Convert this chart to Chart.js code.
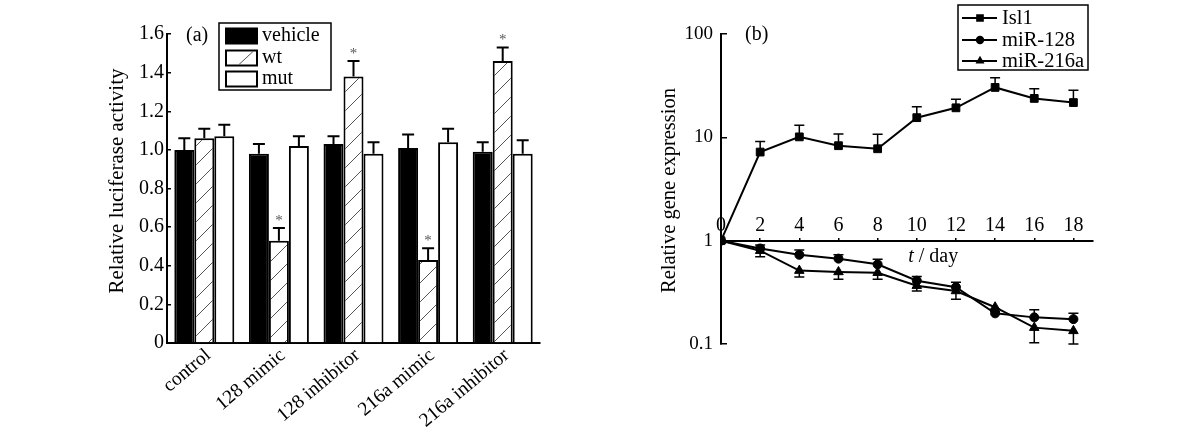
<!DOCTYPE html>
<html>
<head>
<meta charset="utf-8">
<script src="https://cdn.jsdelivr.net/npm/chart.js@4.4.1/dist/chart.umd.min.js"></script>
<style>
  html, body { margin: 0; padding: 0; background: #fff; }
  #wrap { position: relative; width: 1200px; height: 442px; overflow: hidden; }
  canvas { position: absolute; top: 0; }
  #ca { left: 0; }
  #cb { left: 600px; }
</style>
</head>
<body>
<div id="wrap">
  <canvas id="ca" width="600" height="442"></canvas>
  <canvas id="cb" width="600" height="442"></canvas>
</div>
<script>
// ---------- Panel (a) data ----------
const categories = ['control', '128 mimic', '128 inhibitor', '216a mimic', '216a inhibitor'];
const vehicle    = [1.00, 0.98, 1.03, 1.01, 0.99];
const vehicleErr = [0.06, 0.05, 0.04, 0.07, 0.05];
const wt         = [1.06, 0.53, 1.38, 0.43, 1.46];
const wtErr      = [0.05, 0.065, 0.08, 0.06, 0.07];
const mut        = [1.07, 1.02, 0.98, 1.04, 0.98];
const mutErr     = [0.06, 0.05, 0.06, 0.07, 0.07];
const wtSig      = [false, true, true, true, true];
const yTicksA    = [0, 0.2, 0.4, 0.6, 0.8, 1.0, 1.2, 1.4, 1.6];

// ---------- Panel (b) data ----------
const days      = [0, 2, 4, 6, 8, 10, 12, 14, 16, 18];
const isl1      = [1, 7.2, 10.1, 8.3, 7.75, 15.5, 19.3, 30.4, 23.8, 21.7];
const isl1Err   = [0, 1.9, 3.0, 2.5, 2.95, 4.3, 4.1, 7.3, 5.7, 6.9];      // upward
const mir128    = [1, 0.84, 0.73, 0.67, 0.59, 0.41, 0.355, 0.198, 0.181, 0.174];
const mir128Err = [0, 0.07, 0.08, 0.06, 0.07, 0.04, 0.04, 0.01, 0.033, 0.024]; // upward
const mir216    = [1, 0.80, 0.513, 0.498, 0.49, 0.367, 0.326, 0.227, 0.144, 0.134];
const mir216Err = [0, 0.10, 0.067, 0.075, 0.067, 0.041, 0.055, 0.01, 0.041, 0.034]; // downward
const yTicksB   = [0.1, 1, 10, 100];
const xTicksB   = [0, 2, 4, 6, 8, 10, 12, 14, 16, 18];

const SERIF = "'Liberation Serif', 'Times New Roman', serif";

// hatch pattern for "wt"
function makeHatch() {
  const s = 19;
  const c = document.createElement('canvas');
  c.width = s; c.height = s;
  const g = c.getContext('2d');
  g.fillStyle = '#fff'; g.fillRect(0, 0, s, s);
  g.strokeStyle = '#555'; g.lineWidth = 1;
  g.beginPath();
  g.moveTo(0, s); g.lineTo(s, 0);
  g.moveTo(-2, 2); g.lineTo(2, -2);
  g.moveTo(s - 2, s + 2); g.lineTo(s + 2, s - 2);
  g.stroke();
  return document.getElementById('ca').getContext('2d').createPattern(c, 'repeat');
}
const hatch = makeHatch();

function drawVerticalTitle(ctx, text, x, y, size) {
  ctx.save();
  ctx.translate(x, y);
  ctx.rotate(-Math.PI / 2);
  ctx.fillStyle = '#000';
  ctx.font = size + 'px ' + SERIF;
  ctx.textAlign = 'center'; ctx.textBaseline = 'middle';
  ctx.fillText(text, 0, 0);
  ctx.restore();
}

// ---------- Panel (a) plugins ----------
const errorBarsA = {
  id: 'errorBarsA',
  afterDatasetsDraw(chart) {
    const ctx = chart.ctx, ys = chart.scales.y;
    ctx.save();
    chart.data.datasets.forEach((ds, di) => {
      const meta = chart.getDatasetMeta(di);
      meta.data.forEach((bar, i) => {
        const yTop = ys.getPixelForValue(ds.data[i] + ds.errors[i]);
        ctx.strokeStyle = '#000'; ctx.lineWidth = 2;
        ctx.beginPath();
        ctx.moveTo(bar.x, bar.y); ctx.lineTo(bar.x, yTop);
        ctx.moveTo(bar.x - 6, yTop); ctx.lineTo(bar.x + 6, yTop);
        ctx.stroke();
        if (ds.sig && ds.sig[i]) {
          ctx.fillStyle = '#555';
          ctx.font = '15px ' + SERIF;
          ctx.textAlign = 'center'; ctx.textBaseline = 'middle';
          ctx.fillText('*', bar.x, yTop - 7);
        }
      });
    });
    ctx.restore();
  }
};

const legendA = {
  id: 'legendA',
  afterDraw(chart) {
    const ctx = chart.ctx;
    ctx.save();
    ctx.strokeStyle = '#000'; ctx.lineWidth = 1.5;
    ctx.strokeRect(219, 23, 112, 67);
    const rows = [36, 58, 79];
    chart.data.datasets.forEach((ds, i) => {
      const y = rows[i];
      const x = 226, w = 31, h = 15;
      ctx.fillStyle = (i === 0) ? '#000' : '#fff';
      ctx.fillRect(x, y - h / 2, w, h);
      ctx.lineWidth = 2; ctx.strokeStyle = '#000';
      ctx.strokeRect(x, y - h / 2, w, h);
      if (i === 1) {
        ctx.lineWidth = 1; ctx.strokeStyle = '#555';
        ctx.beginPath();
        ctx.moveTo(x + 13, y + h / 2 - 1); ctx.lineTo(x + 27, y - h / 2 + 1);
        ctx.stroke();
      }
      ctx.fillStyle = '#000';
      ctx.font = '20px ' + SERIF;
      ctx.textAlign = 'left'; ctx.textBaseline = 'middle';
      ctx.fillText(ds.label, 262, y);
    });
    ctx.font = '20px ' + SERIF;
    ctx.textAlign = 'left'; ctx.textBaseline = 'middle';
    ctx.fillText('(a)', 186, 36);
    ctx.restore();
    drawVerticalTitle(ctx, 'Relative luciferase activity', 117, 181, 21);
  }
};

new Chart(document.getElementById('ca'), {
  type: 'bar',
  data: {
    labels: categories,
    datasets: [
      { label: 'vehicle', data: vehicle, errors: vehicleErr, backgroundColor: '#000', borderColor: '#000', borderWidth: 2 },
      { label: 'wt', data: wt, errors: wtErr, sig: wtSig, backgroundColor: hatch, borderColor: '#000', borderWidth: 2 },
      { label: 'mut', data: mut, errors: mutErr, backgroundColor: '#fff', borderColor: '#000', borderWidth: 2 }
    ]
  },
  options: {
    responsive: false,
    animation: false,
    events: [],
    layout: { padding: { left: 0, top: 34, right: 60, bottom: 0 } },
    datasets: { bar: { categoryPercentage: 0.804, barPercentage: 1.0 } },
    plugins: { legend: { display: false }, tooltip: { enabled: false } },
    scales: {
      x: {
        z: 1,
        grid: { display: true, drawOnChartArea: false, offset: false, drawTicks: true, tickLength: -4, color: '#000', lineWidth: 1.5 },
        border: { display: true, color: '#000', width: 2 },
        ticks: { color: '#000', font: { family: SERIF, size: 19.5 }, minRotation: 40, maxRotation: 40, padding: 5, autoSkip: false, labelOffset: 4 },
        afterFit(s) { s.height = 99; }
      },
      y: {
        min: 0, max: 1.6,
        grid: { display: true, drawOnChartArea: false, drawTicks: true, tickLength: -4, color: '#000', lineWidth: 1.5 },
        border: { display: true, color: '#000', width: 2 },
        ticks: { color: '#000', font: { family: SERIF, size: 20 }, padding: 7,
                 callback: (v) => (v === 0 ? '0' : Number(v).toFixed(1)) },
        afterBuildTicks(s) { s.ticks = yTicksA.map(v => ({ value: v })); },
        afterFit(s) { s.width = 167; }
      }
    }
  },
  plugins: [errorBarsA, legendA]
});

// ---------- Panel (b) plugins ----------
const errorBarsB = {
  id: 'errorBarsB',
  afterDatasetsDraw(chart) {
    const ctx = chart.ctx, ys = chart.scales.y;
    ctx.save();
    ctx.strokeStyle = '#000'; ctx.lineWidth = 1.5;
    chart.data.datasets.forEach((ds, di) => {
      const meta = chart.getDatasetMeta(di);
      meta.data.forEach((pt, i) => {
        const e = ds.errors[i];
        if (!e) return;
        const v = ds.data[i].y;
        const yEnd = ys.getPixelForValue(ds.errDir > 0 ? v + e : v - e);
        ctx.beginPath();
        ctx.moveTo(pt.x, pt.y); ctx.lineTo(pt.x, yEnd);
        ctx.moveTo(pt.x - 5, yEnd); ctx.lineTo(pt.x + 5, yEnd);
        ctx.stroke();
      });
    });
    ctx.restore();
  }
};

const legendB = {
  id: 'legendB',
  afterDraw(chart) {
    const ctx = chart.ctx;
    ctx.save();
    ctx.strokeStyle = '#000'; ctx.lineWidth = 1.5;
    ctx.strokeRect(358, 5, 130, 65);
    const rows = [18, 40, 61];
    chart.data.datasets.forEach((ds, i) => {
      const y = rows[i];
      ctx.strokeStyle = '#000'; ctx.lineWidth = 2;
      ctx.beginPath(); ctx.moveTo(362, y); ctx.lineTo(397, y); ctx.stroke();
      Chart.helpers.drawPoint(ctx, { pointStyle: ds.pointStyle, radius: ds.pointStyle === 'rect' ? 4 : 3.2, borderWidth: 1, rotation: 0 }, 380, y);
      ctx.fillStyle = '#000';
      ctx.fill();
      ctx.font = '20.5px ' + SERIF;
      ctx.textAlign = 'left'; ctx.textBaseline = 'middle';
      ctx.fillText(ds.label, 402, y + 1);
    });
    ctx.font = '20px ' + SERIF;
    ctx.textAlign = 'left'; ctx.textBaseline = 'middle';
    ctx.fillText('(b)', 145, 35);
    // x-axis title "t / day"
    const xs = chart.scales.x;
    ctx.textBaseline = 'middle';
    ctx.font = 'italic 20px ' + SERIF;
    const t1 = 't', t2 = ' / day';
    const w1 = ctx.measureText(t1).width;
    ctx.font = '20px ' + SERIF;
    const w2 = ctx.measureText(t2).width;
    const cx = xs.getPixelForValue(10.84);
    const x0 = cx - (w1 + w2) / 2;
    ctx.font = 'italic 20px ' + SERIF;
    ctx.fillText(t1, x0, 257);
    ctx.font = '20px ' + SERIF;
    ctx.fillText(t2, x0 + w1, 257);
    ctx.restore();
    drawVerticalTitle(ctx, 'Relative gene expression', 70, 190.5, 20.5);
  }
};

function pts(ys) { return days.map((d, i) => ({ x: d, y: ys[i] })); }

new Chart(document.getElementById('cb'), {
  type: 'line',
  data: {
    datasets: [
      { label: 'Isl1', data: pts(isl1), errors: isl1Err, errDir: 1, pointStyle: 'rect', pointRadius: 5.5,
        borderColor: '#000', backgroundColor: '#000', borderWidth: 2, pointBorderWidth: 1, fill: false, tension: 0 },
      { label: 'miR-128', data: pts(mir128), errors: mir128Err, errDir: 1, pointStyle: 'circle', pointRadius: 4.5,
        borderColor: '#000', backgroundColor: '#000', borderWidth: 2, pointBorderWidth: 1, fill: false, tension: 0 },
      { label: 'miR-216a', data: pts(mir216), errors: mir216Err, errDir: -1, pointStyle: 'triangle', pointRadius: 5.5,
        borderColor: '#000', backgroundColor: '#000', borderWidth: 2, pointBorderWidth: 1, fill: false, tension: 0 }
    ]
  },
  options: {
    responsive: false,
    animation: false,
    events: [],
    layout: { padding: { left: 0, top: 34, right: 107, bottom: 98 } },
    plugins: { legend: { display: false }, tooltip: { enabled: false } },
    scales: {
      x: {
        type: 'linear', min: 0, max: 19,
        position: { y: 1 },
        grid: { display: true, drawOnChartArea: false, drawTicks: true, tickLength: -4, color: '#000', lineWidth: 1.5 },
        border: { display: true, color: '#000', width: 2 },
        ticks: { color: '#000', font: { family: SERIF, size: 20 }, padding: -23, maxRotation: 0, autoSkip: false },
        afterBuildTicks(s) { s.ticks = xTicksB.map(v => ({ value: v })); }
      },
      y: {
        type: 'logarithmic', min: 0.1, max: 100,
        grid: { display: true, drawOnChartArea: false, drawTicks: true, tickLength: -6, color: '#000', lineWidth: 1.5 },
        border: { display: true, color: '#000', width: 2 },
        ticks: { color: '#000', font: { family: SERIF, size: 19 }, padding: 14, callback: (v) => String(v) },
        afterBuildTicks(s) { s.ticks = yTicksB.map(v => ({ value: v })); },
        afterFit(s) { s.width = 121; }
      }
    }
  },
  plugins: [errorBarsB, legendB]
});
</script>
</body>
</html>
